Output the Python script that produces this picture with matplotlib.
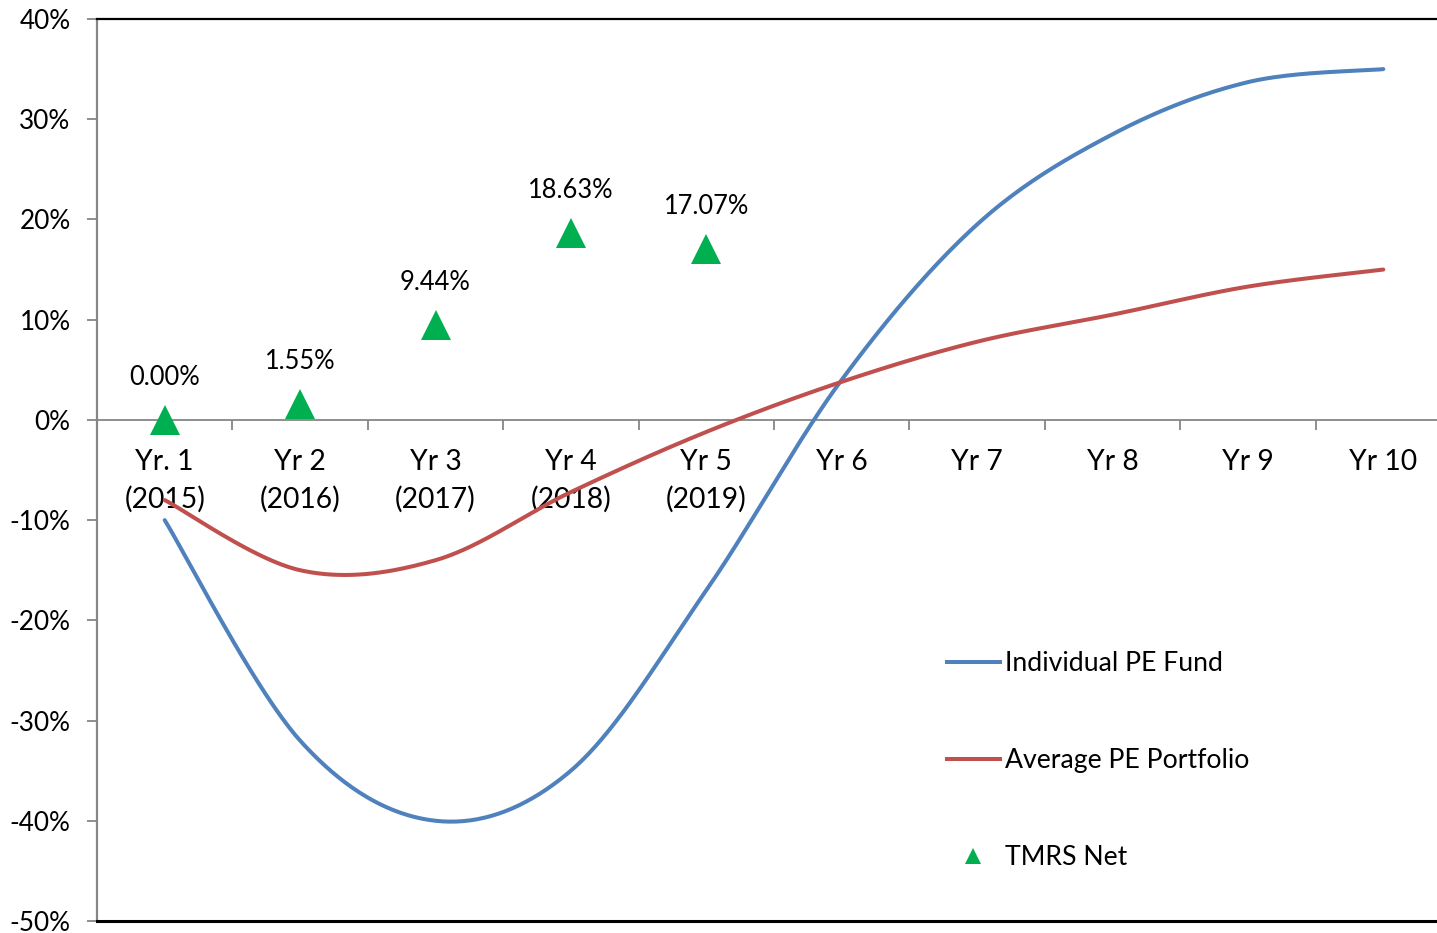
import numpy as np
import matplotlib
matplotlib.use("Agg")
import matplotlib.pyplot as plt
from matplotlib.lines import Line2D
from matplotlib.ticker import FixedLocator, FuncFormatter

# ---------------- data ----------------
categories = ["Yr. 1\n(2015)", "Yr 2\n(2016)", "Yr 3\n(2017)", "Yr 4\n(2018)", "Yr 5\n(2019)",
              "Yr 6", "Yr 7", "Yr 8", "Yr 9", "Yr 10"]
individual_pe_fund = [-10, -32, -40, -35, -17, 4, 19.5, 28.5, 33.7, 35]
average_pe_portfolio = [-8, -15, -14, -7.2, -1.2, 3.8, 7.8, 10.5, 13.3, 15]
tmrs_net = [0.00, 1.55, 9.44, 18.63, 17.07]
y_ticks = [-50, -40, -30, -20, -10, 0, 10, 20, 30, 40]

FONT = "Lato"
FS_TICK = 18.8
FS_CAT = 20.3
FS_LAB = 18.4
FS_LEG = 19.2
plt.rcParams["font.family"] = [FONT, "DejaVu Sans"]

BLUE = "#4F81BD"
RED = "#C0504D"
GREEN = "#00B050"
GRAY = "#868686"


def excel_smooth(xs, ys, n=40):
    """Bezier smoothing similar to Excel's 'smoothed line'."""
    xs = np.asarray(xs, float)
    ys = np.asarray(ys, float)
    px = np.concatenate([[xs[0]], xs, [xs[-1]]])
    py = np.concatenate([[ys[0]], ys, [ys[-1]]])
    outx, outy = [], []
    t = np.linspace(0, 1, n)
    for i in range(1, len(px) - 2):
        p0 = np.array([px[i], py[i]])
        p3 = np.array([px[i + 1], py[i + 1]])
        p1 = p0 + (np.array([px[i + 1], py[i + 1]]) - np.array([px[i - 1], py[i - 1]])) / 6
        p2 = p3 - (np.array([px[i + 2], py[i + 2]]) - np.array([px[i], py[i]])) / 6
        b = ((1 - t) ** 3)[:, None] * p0 + (3 * (1 - t) ** 2 * t)[:, None] * p1 \
            + (3 * (1 - t) * t ** 2)[:, None] * p2 + (t ** 3)[:, None] * p3
        outx.extend(b[:, 0])
        outy.extend(b[:, 1])
    return np.array(outx), np.array(outy)


W, H = 1437, 933
fig = plt.figure(figsize=(W / 100, H / 100), dpi=100)
left, right, top, bottom = 97, 1451, 19, 921
ax = fig.add_axes([left / W, 1 - bottom / H, (right - left) / W, (bottom - top) / H])

x = np.arange(len(categories))
ax.set_xlim(-0.5, len(categories) - 0.5)
ax.set_ylim(-50, 40)

sx, sy = excel_smooth(x, individual_pe_fund)
ax.plot(sx, sy, color=BLUE, lw=2.9, solid_capstyle="round", zorder=3)
sx, sy = excel_smooth(x, average_pe_portfolio)
ax.plot(sx, sy, color=RED, lw=2.9, solid_capstyle="round", zorder=3)

xt = x[:len(tmrs_net)]
ax.plot(xt, tmrs_net, linestyle="none", marker="^", markersize=21.6,
        color=GREEN, markeredgewidth=0, zorder=4)
for xi, v in zip(xt, tmrs_net):
    ax.annotate(f"{v:.2f}%", (xi, v), xytext=(0, 30.5), textcoords="offset points",
                ha="center", va="center", fontsize=FS_LAB, color="black")

# spines
ax.spines["right"].set_visible(False)
ax.spines["top"].set_color("black")
ax.spines["top"].set_linewidth(1.6)
ax.spines["left"].set_color(GRAY)
ax.spines["left"].set_linewidth(1.6)
ax.spines["bottom"].set_position(("data", 0))
ax.spines["bottom"].set_color(GRAY)
ax.spines["bottom"].set_linewidth(1.3)
ax.axhline(-50, color="black", lw=2.2, clip_on=False, zorder=5)

# y axis
ax.yaxis.set_major_locator(FixedLocator(y_ticks))
ax.yaxis.set_major_formatter(FuncFormatter(lambda v, p: f"{v:.0f}%"))
ax.tick_params(axis="y", direction="out", length=7, width=1.3, color=GRAY,
               pad=12, labelsize=FS_TICK, labelcolor="black")

# x axis categories
ax.set_xticks(x)
ax.set_xticklabels(categories, fontsize=FS_CAT, linespacing=1.5)
ax.set_xticks(np.arange(len(categories)) + 0.5, minor=True)
ax.tick_params(axis="x", which="major", length=0, pad=21, labelcolor="black")
ax.tick_params(axis="x", which="minor", direction="out", length=7, width=1.3, color=GRAY)

# legend
handles = [
    Line2D([], [], color=BLUE, lw=2.9),
    Line2D([], [], color=RED, lw=2.9),
    Line2D([], [], color=GREEN, marker="^", linestyle="none", markersize=12, markeredgewidth=0),
]
labels = ["Individual PE Fund", "Average PE Portfolio", "TMRS Net"]
fig.legend(handles, labels, loc="upper left",
           bbox_to_anchor=(947 / W, 1 - 651 / H), bbox_transform=fig.transFigure,
           frameon=False, fontsize=FS_LEG, handlelength=1.98, handletextpad=0.19,
           labelspacing=2.70, borderpad=0, borderaxespad=0)

fig.savefig("out.png", dpi=100)
